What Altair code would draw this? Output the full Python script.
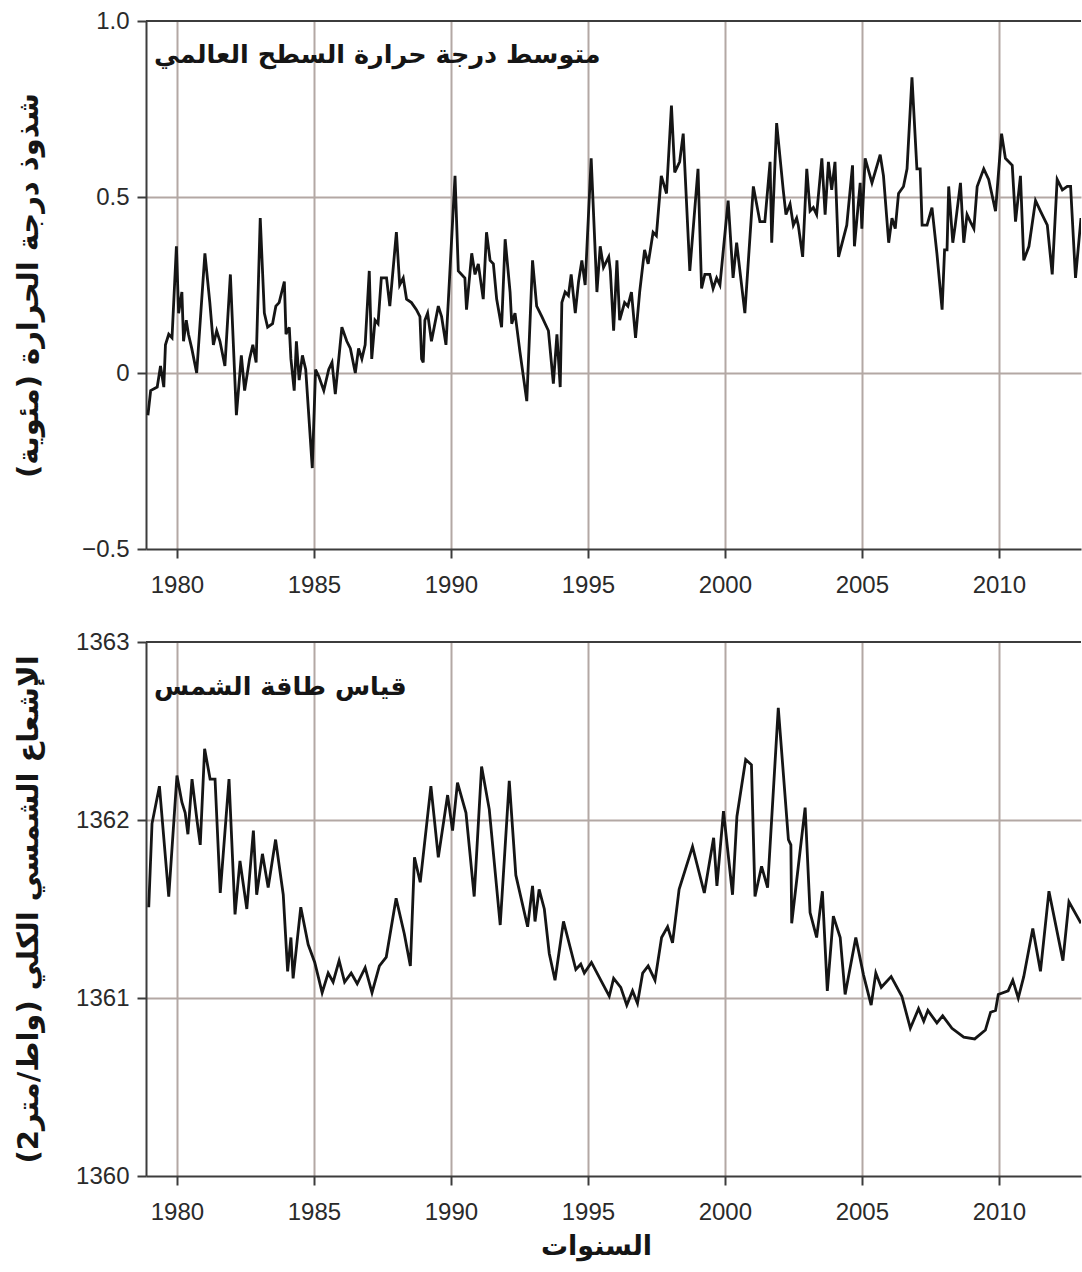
import altair as alt
import pandas as pd

# Axis ticks and text
year_ticks = [1980, 1985, 1990, 1995, 2000, 2005, 2010]
temp_ticks = [-0.5, 0, 0.5, 1.0]
tsi_ticks = [1360, 1361, 1362, 1363]

panel_titles = ["متوسط درجة حرارة السطح العالمي", "قياس طاقة الشمس"]
y_titles = ["شذوذ درجة الحرارة (مئوية)", "الإشعاع الشمسي الكلي (واط/متر2)"]
x_title = "السنوات"

# Global mean surface temperature anomaly (degrees C)
temp_years = [
    1978.94, 1979.04, 1979.28, 1979.40, 1979.52, 1979.58, 1979.70, 1979.82, 1979.98, 1980.06,
    1980.18, 1980.24, 1980.34, 1980.42, 1980.54, 1980.72, 1981.02, 1981.20, 1981.33, 1981.45,
    1981.57, 1981.75, 1981.95, 1982.17, 1982.35, 1982.47, 1982.65, 1982.77, 1982.89, 1983.04,
    1983.19, 1983.31, 1983.49, 1983.61, 1983.73, 1983.92, 1983.98, 1984.10, 1984.16, 1984.28,
    1984.36, 1984.46, 1984.58, 1984.70, 1984.94, 1985.06, 1985.18, 1985.36, 1985.54, 1985.66,
    1985.78, 1986.02, 1986.20, 1986.33, 1986.51, 1986.63, 1986.75, 1986.87, 1987.02, 1987.11,
    1987.23, 1987.34, 1987.46, 1987.65, 1987.77, 1988.01, 1988.13, 1988.26, 1988.38, 1988.56,
    1988.74, 1988.87, 1988.93, 1988.99, 1989.05, 1989.15, 1989.29, 1989.54, 1989.66, 1989.82,
    1990.15, 1990.27, 1990.51, 1990.57, 1990.76, 1990.88, 1991.00, 1991.18, 1991.30, 1991.43,
    1991.55, 1991.67, 1991.85, 1991.98, 1992.16, 1992.22, 1992.34, 1992.52, 1992.77, 1992.98,
    1993.13, 1993.32, 1993.56, 1993.74, 1993.87, 1993.99, 1994.05, 1994.17, 1994.29, 1994.39,
    1994.54, 1994.66, 1994.78, 1994.90, 1995.12, 1995.33, 1995.45, 1995.57, 1995.76, 1995.82,
    1995.94, 1996.06, 1996.16, 1996.34, 1996.46, 1996.59, 1996.74, 1996.89, 1997.07, 1997.20,
    1997.38, 1997.50, 1997.68, 1997.87, 1998.05, 1998.17, 1998.35, 1998.48, 1998.72, 1999.02,
    1999.15, 1999.27, 1999.45, 1999.57, 1999.70, 1999.82, 2000.12, 2000.30, 2000.43, 2000.73,
    2001.04, 2001.28, 2001.46, 2001.65, 2001.71, 2001.89, 2002.13, 2002.23, 2002.38, 2002.50,
    2002.62, 2002.68, 2002.84, 2002.99, 2003.11, 2003.23, 2003.35, 2003.54, 2003.66, 2003.78,
    2003.90, 2004.02, 2004.15, 2004.45, 2004.66, 2004.73, 2004.94, 2005.00, 2005.12, 2005.37,
    2005.67, 2005.79, 2005.98, 2006.10, 2006.22, 2006.34, 2006.52, 2006.65, 2006.83, 2007.01,
    2007.13, 2007.20, 2007.38, 2007.56, 2007.74, 2007.93, 2008.02, 2008.11, 2008.17, 2008.32,
    2008.41, 2008.60, 2008.72, 2008.84, 2008.96, 2009.09, 2009.21, 2009.45, 2009.63, 2009.88,
    2010.10, 2010.24, 2010.49, 2010.61, 2010.79, 2010.91, 2011.10, 2011.34, 2011.52, 2011.77,
    2011.95, 2012.13, 2012.32, 2012.50, 2012.62, 2012.80, 2013.00,
]
temp_values = [
    -0.12, -0.05, -0.04, 0.02, -0.04, 0.08, 0.11, 0.10, 0.36, 0.17,
    0.23, 0.09, 0.15, 0.11, 0.07, 0.00, 0.34, 0.20, 0.08, 0.12,
    0.09, 0.02, 0.28, -0.12, 0.05, -0.05, 0.04, 0.08, 0.03, 0.44,
    0.17, 0.13, 0.14, 0.19, 0.20, 0.26, 0.11, 0.13, 0.04, -0.05,
    0.09, -0.02, 0.05, 0.01, -0.27, 0.01, -0.01, -0.05, 0.01, 0.03,
    -0.06, 0.13, 0.09, 0.07, 0.00, 0.07, 0.04, 0.08, 0.29, 0.04,
    0.15, 0.14, 0.27, 0.27, 0.19, 0.40, 0.25, 0.27, 0.21, 0.20,
    0.18, 0.16, 0.04, 0.03, 0.15, 0.17, 0.09, 0.19, 0.16, 0.08,
    0.56, 0.29, 0.27, 0.18, 0.34, 0.28, 0.31, 0.21, 0.40, 0.32,
    0.31, 0.21, 0.13, 0.38, 0.23, 0.14, 0.17, 0.06, -0.08, 0.32,
    0.19, 0.16, 0.12, -0.03, 0.11, -0.04, 0.20, 0.23, 0.22, 0.28,
    0.17, 0.26, 0.32, 0.25, 0.61, 0.23, 0.36, 0.30, 0.33, 0.29,
    0.12, 0.32, 0.15, 0.20, 0.19, 0.23, 0.10, 0.23, 0.35, 0.31,
    0.40, 0.39, 0.56, 0.51, 0.76, 0.57, 0.60, 0.68, 0.29, 0.58,
    0.24, 0.28, 0.28, 0.24, 0.27, 0.25, 0.49, 0.27, 0.37, 0.17,
    0.53, 0.43, 0.43, 0.60, 0.37, 0.71, 0.52, 0.45, 0.48, 0.42,
    0.44, 0.42, 0.33, 0.58, 0.46, 0.47, 0.45, 0.61, 0.45, 0.60,
    0.52, 0.60, 0.33, 0.42, 0.59, 0.36, 0.54, 0.41, 0.61, 0.54,
    0.62, 0.56, 0.37, 0.44, 0.41, 0.51, 0.53, 0.58, 0.84, 0.58,
    0.58, 0.42, 0.42, 0.47, 0.34, 0.18, 0.35, 0.35, 0.53, 0.37,
    0.42, 0.54, 0.37, 0.45, 0.43, 0.41, 0.53, 0.58, 0.55, 0.46,
    0.68, 0.61, 0.59, 0.43, 0.56, 0.32, 0.36, 0.49, 0.46, 0.42,
    0.28, 0.55, 0.52, 0.53, 0.53, 0.27, 0.44,
]

# Total solar irradiance (W/m2)
tsi_years = [
    1978.97, 1979.09, 1979.36, 1979.70, 1980.00, 1980.18, 1980.30, 1980.40, 1980.55, 1980.73,
    1980.85, 1981.01, 1981.21, 1981.39, 1981.58, 1981.90, 1982.12, 1982.30, 1982.55, 1982.79,
    1982.91, 1983.12, 1983.33, 1983.60, 1983.88, 1984.04, 1984.16, 1984.24, 1984.52, 1984.79,
    1985.03, 1985.30, 1985.52, 1985.70, 1985.92, 1986.12, 1986.36, 1986.58, 1986.87, 1987.12,
    1987.39, 1987.64, 1988.00, 1988.30, 1988.52, 1988.67, 1988.88, 1989.27, 1989.54, 1989.88,
    1990.06, 1990.24, 1990.55, 1990.85, 1991.12, 1991.40, 1991.80, 1992.13, 1992.37, 1992.80,
    1992.98, 1993.07, 1993.22, 1993.41, 1993.59, 1993.80, 1994.11, 1994.56, 1994.74, 1994.87,
    1995.13, 1995.47, 1995.78, 1995.94, 1996.20, 1996.42, 1996.63, 1996.81, 1997.00, 1997.20,
    1997.45, 1997.69, 1997.91, 1998.09, 1998.33, 1998.82, 1999.25, 1999.59, 1999.71, 1999.95,
    2000.28, 2000.44, 2000.76, 2000.97, 2001.10, 2001.34, 2001.56, 2001.95, 2002.32, 2002.41,
    2002.44, 2002.93, 2003.11, 2003.35, 2003.56, 2003.74, 2003.96, 2004.21, 2004.39, 2004.78,
    2005.06, 2005.34, 2005.51, 2005.71, 2006.07, 2006.46, 2006.77, 2007.07, 2007.26, 2007.41,
    2007.74, 2007.95, 2008.29, 2008.72, 2009.12, 2009.51, 2009.70, 2009.88, 2009.98, 2010.34,
    2010.51, 2010.71, 2010.91, 2011.24, 2011.52, 2011.83, 2012.34, 2012.56, 2013.00,
]
tsi_values = [
    1361.51, 1361.98, 1362.19, 1361.57, 1362.25, 1362.10, 1362.04, 1361.92, 1362.23, 1362.00,
    1361.86, 1362.40, 1362.23, 1362.23, 1361.59, 1362.23, 1361.47, 1361.77, 1361.50, 1361.94,
    1361.58, 1361.81, 1361.62, 1361.89, 1361.58, 1361.15, 1361.34, 1361.11, 1361.51, 1361.30,
    1361.20, 1361.03, 1361.14, 1361.09, 1361.21, 1361.09, 1361.14, 1361.08, 1361.17, 1361.03,
    1361.18, 1361.23, 1361.56, 1361.36, 1361.18, 1361.79, 1361.65, 1362.19, 1361.79, 1362.14,
    1361.94, 1362.21, 1362.04, 1361.57, 1362.30, 1362.06, 1361.41, 1362.22, 1361.69, 1361.40,
    1361.63, 1361.43, 1361.61, 1361.50, 1361.25, 1361.10, 1361.43, 1361.16, 1361.19, 1361.14,
    1361.20, 1361.10, 1361.01, 1361.11, 1361.06, 1360.96, 1361.04, 1360.97, 1361.14, 1361.18,
    1361.10, 1361.34, 1361.40, 1361.31, 1361.61, 1361.85, 1361.59, 1361.90, 1361.63, 1362.05,
    1361.58, 1362.02, 1362.34, 1362.31, 1361.57, 1361.74, 1361.62, 1362.63, 1361.89, 1361.86,
    1361.42, 1362.07, 1361.48, 1361.34, 1361.60, 1361.04, 1361.46, 1361.34, 1361.02, 1361.34,
    1361.13, 1360.96, 1361.14, 1361.06, 1361.12, 1361.01, 1360.83, 1360.94, 1360.87, 1360.93,
    1360.86, 1360.90, 1360.83, 1360.78, 1360.77, 1360.82, 1360.92, 1360.93, 1361.02, 1361.04,
    1361.10, 1361.00, 1361.12, 1361.39, 1361.15, 1361.60, 1361.21, 1361.54, 1361.42,
]

X_DOMAIN = [1978.87, 2013.0]
PLOT_W = 935
AR_FONT = "DejaVu Sans"
NUM_FONT = "Liberation Sans"
INK = "#151515"
FRAME = "#3c3c3c"
GRID = "#b3a8a4"


def year_axis(title_text=None):
    opts = dict(values=year_ticks, format="d", labelPadding=15, grid=True)
    if title_text:
        opts.update(title=title_text, titleFontSize=27, titlePadding=9, titleX=450)
    else:
        opts.update(title=None)
    return alt.Axis(**opts)


def panel(years, values, field, domain, ticks, y_title, label_expr,
          title_text, title_y, x_axis, height):
    df = pd.DataFrame({"year": years, field: values})
    edge_test = f"datum.value == {domain[0]} || datum.value == {domain[1]}"
    x_enc = alt.X("year:Q", scale=alt.Scale(domain=X_DOMAIN, nice=False, zero=False), axis=x_axis)
    y_enc = alt.Y(
        f"{field}:Q",
        scale=alt.Scale(domain=domain, nice=False, zero=False),
        axis=alt.Axis(
            values=ticks,
            labelExpr=label_expr,
            title=y_title,
            titleFontSize=29,
            titlePadding=39,
            minExtent=64,
            maxExtent=64,
            gridOpacity={"condition": {"test": edge_test, "value": 0}, "value": 1},
        ),
    )
    line = alt.Chart(df).mark_line(color=INK, strokeWidth=2.8, clip=True).encode(x=x_enc, y=y_enc)
    # upper border of the plot frame, drawn at the top of the value range
    top_edge = alt.Chart(pd.DataFrame({field: [domain[1]]})).mark_rule(
        color=FRAME, strokeWidth=2
    ).encode(y=alt.Y(f"{field}:Q"))
    label = alt.Chart(pd.DataFrame({"t": [title_text]})).mark_text(
        align="left", baseline="middle", font=AR_FONT, fontSize=25.5,
        fontWeight="bold", color=INK,
    ).encode(x=alt.value(8), y=alt.value(title_y), text="t:N")
    return alt.layer(line, top_edge, label).properties(width=PLOT_W, height=height)


top = panel(
    temp_years, temp_values, "anomaly", [-0.5, 1.0], temp_ticks, y_titles[0],
    "datum.value == 0 ? '0' : format(datum.value, '.1f')", panel_titles[0], 34,
    year_axis(), 528,
)
bottom = panel(
    tsi_years, tsi_values, "tsi", [1360, 1363], tsi_ticks, y_titles[1],
    "format(datum.value, 'd')", panel_titles[1], 45,
    year_axis(x_title), 534,
)

chart = (
    alt.vconcat(top, bottom, spacing=33)
    .properties(padding={"left": 13, "top": 9, "right": 0, "bottom": 5}, background="white")
    .configure_view(strokeWidth=0)
    .configure_axis(
        labelFont=NUM_FONT, labelFontSize=24, labelColor="#2a2a2a",
        tickColor=FRAME, tickWidth=2, tickSize=9,
        domainColor=FRAME, domainWidth=2,
        gridColor=GRID, gridWidth=2,
        titleFont=AR_FONT, titleFontWeight="bold", titleColor=INK,
    )
    .configure_axisY(labelPadding=8)
)

chart.save("out.html", embed_options={"renderer": "svg", "actions": False})
